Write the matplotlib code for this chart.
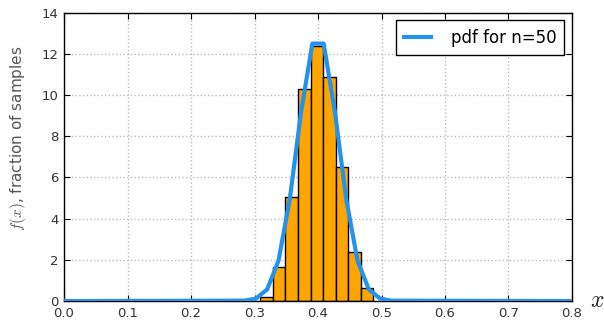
import matplotlib
matplotlib.use("Agg")
import matplotlib.pyplot as plt

plt.rcParams['mathtext.fontset'] = 'cm'
plt.rcParams['font.family'] = ['DejaVu Sans']

# histogram bins (left edges), width and heights (density)
bin_left = [0.309, 0.3288, 0.3486, 0.3684, 0.3882, 0.408, 0.4278, 0.4476, 0.4674]
bin_width = 0.0198
bin_heights = [0.21, 1.67, 5.06, 10.28, 12.4, 10.89, 6.5, 2.39, 0.62]

# pdf curve points
pdf_x = [0.0, 0.2844, 0.3022, 0.32, 0.3378, 0.3556, 0.3733, 0.3911, 0.4089,
         0.4267, 0.4444, 0.4622, 0.48, 0.4978, 0.5156, 0.8]
pdf_y = [0.0, 0.02, 0.12, 0.57, 1.96, 4.96, 9.17, 12.5, 12.5,
         9.17, 4.96, 1.96, 0.57, 0.12, 0.02, 0.0]

xticks = [0.0, 0.1, 0.2, 0.3, 0.4, 0.5, 0.6, 0.7, 0.8]
yticks = [0, 2, 4, 6, 8, 10, 12, 14]

fig = plt.figure(figsize=(6.04, 3.22), dpi=100)
ax = fig.add_axes([0.106, 0.065, 0.841, 0.8956])

ax.bar(bin_left, bin_heights, width=bin_width, align='edge',
       color='#ffa500', edgecolor='black', linewidth=1.0, zorder=2)
ax.plot(pdf_x, pdf_y, color='#2492ea', lw=3, label='pdf for n=50', zorder=3)

ax.set_xlim(0, 0.8)
ax.set_ylim(0, 14)
ax.set_xticks(xticks)
ax.set_yticks(yticks)
ax.set_xticklabels([f"{v:.1f}" for v in xticks])
ax.set_yticklabels([str(v) for v in yticks])
ax.tick_params(direction='in', top=True, right=True, length=4,
               labelsize=9.5, labelcolor='#333333')
ax.tick_params(axis='x', pad=4)
ax.tick_params(axis='y', pad=4)
ax.grid(True, color='#bbbbbb', linestyle=':', linewidth=1.0, zorder=0)
ax.set_axisbelow(True)
for s in ax.spines.values():
    s.set_color('black')
    s.set_linewidth(1.0)

leg = ax.legend(loc='upper right', fontsize=12, fancybox=False,
                framealpha=1, edgecolor='black', borderpad=0.5,
                handlelength=1.6, handletextpad=1.2, borderaxespad=0.45)
leg.get_frame().set_linewidth(1.0)

fig.text(0.03, 0.571, r'$f(x)$, fraction of samples', rotation=90,
         ha='center', va='center', fontsize=11, color='#555555')
fig.text(0.988, 0.068, r'$x$', ha='center', va='center', fontsize=17,
         color='#222222')

fig.savefig('out.png', dpi=100)
